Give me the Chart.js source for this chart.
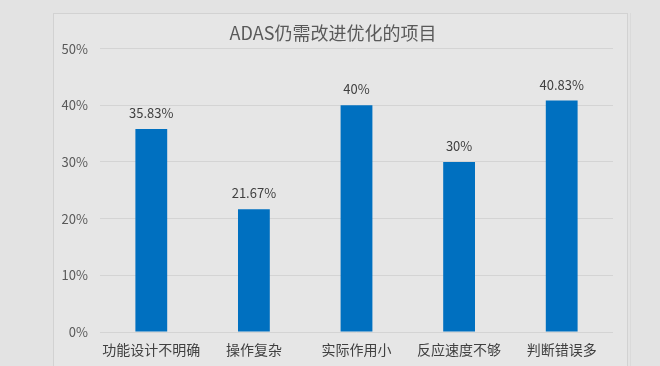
<!DOCTYPE html>
<html>
<head>
<meta charset="utf-8">
<script src="https://cdn.jsdelivr.net/npm/chart.js@4"></script>
<style>
html,body{margin:0;padding:0;background:#e3e3e3;}
#wrap{position:relative;width:660px;height:366px;}
canvas{display:block;}
</style>
</head>
<body>
<div id="wrap"><canvas id="c" width="660" height="366"></canvas></div>
<script>
const categories = ['功能设计不明确','操作复杂','实际作用小','反应速度不够','判断错误多'];
const values = [35.83, 21.67, 40, 30, 40.83];
const yTicks = [0, 10, 20, 30, 40, 50];
const titleText = 'ADAS仍需改进优化的项目';

const FONT = '"Noto Sans CJK SC", "Noto Sans", sans-serif';

const panelPlugin = {
  id: 'panel',
  beforeDraw(chart) {
    const ctx = chart.ctx;
    ctx.save();
    ctx.fillStyle = '#e3e3e3';
    ctx.fillRect(0, 0, chart.width, chart.height);
    ctx.fillStyle = '#e6e6e6';
    ctx.fillRect(53, 13, 574, 360);
    ctx.strokeStyle = '#d2d2d2';
    ctx.lineWidth = 1;
    ctx.strokeRect(53.5, 13.5, 574, 360);
    ctx.strokeStyle = '#dadada';
    ctx.beginPath();
    ctx.moveTo(630.5, 13);
    ctx.lineTo(630.5, 366);
    ctx.stroke();
    ctx.restore();
  }
};

const labelPlugin = {
  id: 'barLabels',
  afterDatasetsDraw(chart) {
    const ctx = chart.ctx;
    const meta = chart.getDatasetMeta(0);
    ctx.save();
    ctx.font = '13px ' + FONT;
    ctx.fillStyle = '#404040';
    ctx.textAlign = 'center';
    ctx.textBaseline = 'middle';
    meta.data.forEach((el, i) => {
      ctx.fillText(values[i] + '%', el.x, el.y - 16);
    });
    ctx.restore();
  }
};

new Chart(document.getElementById('c'), {
  type: 'bar',
  data: {
    labels: categories,
    datasets: [{
      data: values,
      backgroundColor: '#0070c0',
      borderWidth: 0,
      categoryPercentage: 1,
      barPercentage: 0.31
    }]
  },
  options: {
    responsive: false,
    animation: false,
    devicePixelRatio: 1,
    layout: { padding: { left: 53, right: 47, top: 13, bottom: 0 } },
    plugins: {
      legend: { display: false },
      tooltip: { enabled: false },
      title: {
        display: true,
        text: titleText,
        color: '#595959',
        font: { family: FONT, size: 18, weight: 'normal' },
        padding: { top: 9, bottom: 5 }
      }
    },
    scales: {
      x: {
        grid: { display: false, drawTicks: false },
        border: { display: false },
        ticks: {
          color: '#404040',
          font: { family: FONT, size: 14 },
          padding: 9,
          maxRotation: 0,
          autoSkip: false
        },
        afterFit(s) { s.height = 34; }
      },
      y: {
        min: 0,
        max: 50,
        afterBuildTicks(s) { s.ticks = yTicks.map(v => ({ value: v })); },
        grid: { color: '#d4d4d4', drawTicks: false },
        border: { display: false },
        ticks: {
          color: '#595959',
          font: { family: FONT, size: 13 },
          padding: 12,
          callback: v => v + '%'
        },
        afterFit(s) { s.width = 47; }
      }
    }
  },
  plugins: [panelPlugin, labelPlugin]
});
</script>
</body>
</html>
